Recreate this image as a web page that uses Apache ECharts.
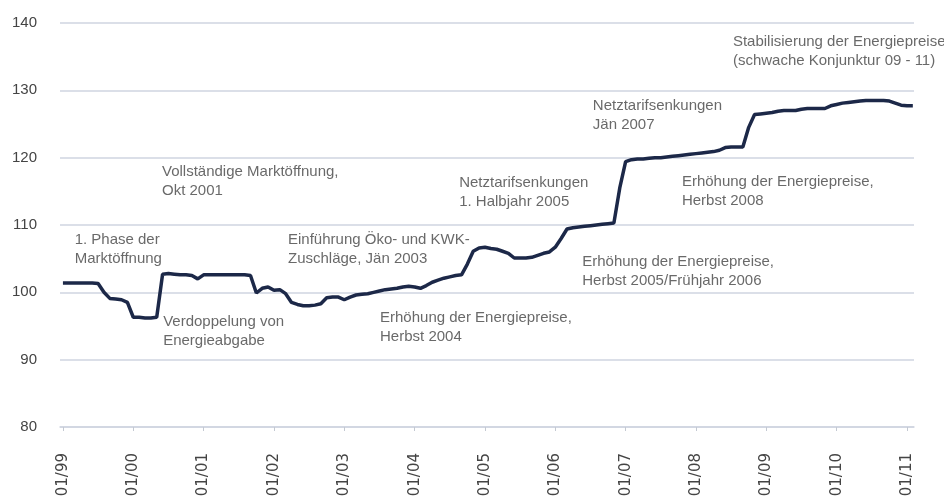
<!DOCTYPE html>
<html>
<head>
<meta charset="utf-8">
<script src="https://cdn.jsdelivr.net/npm/echarts@6/dist/echarts.min.js"></script>
<style>
  html, body { margin: 0; padding: 0; background: #fff; }
  #chart { width: 944px; height: 502px; }
</style>
</head>
<body>
<div id="chart"></div>
<script>
// monthly index values, one array per year (Jan..Dec)
const y1999 = [101.4, 101.4, 101.4, 101.4, 101.4, 101.4, 101.3, 100.0, 99.1, 99.0, 98.9, 98.5];
const y2000 = [96.3, 96.3, 96.2, 96.2, 96.3, 102.7, 102.8, 102.7, 102.6, 102.6, 102.5, 102.0];
const y2001 = [102.6, 102.6, 102.6, 102.6, 102.6, 102.6, 102.6, 102.6, 102.5, 99.9, 100.6, 100.8];
const y2002 = [100.3, 100.4, 99.8, 98.5, 98.2, 98.0, 98.0, 98.1, 98.3, 99.2, 99.3, 99.3];
const y2003 = [98.9, 99.3, 99.6, 99.7, 99.8, 100.0, 100.2, 100.4, 100.5, 100.6, 100.8, 100.9];
const y2004 = [100.8, 100.6, 101.0, 101.5, 101.8, 102.1, 102.3, 102.5, 102.6, 104.2, 106.1, 106.6];
const y2005 = [106.7, 106.5, 106.4, 106.1, 105.8, 105.1, 105.1, 105.1, 105.2, 105.5, 105.8, 106.0];
const y2006 = [106.7, 108.0, 109.4, 109.6, 109.7, 109.8, 109.9, 110.0, 110.1, 110.2, 110.3, 115.5];
const y2007 = [119.4, 119.7, 119.8, 119.8, 119.9, 120.0, 120.0, 120.1, 120.2, 120.3, 120.4, 120.5];
const y2008 = [120.6, 120.7, 120.8, 120.9, 121.1, 121.5, 121.6, 121.6, 121.6, 124.5, 126.4, 126.5];
const y2009 = [126.6, 126.7, 126.9, 127.0, 127.0, 127.0, 127.2, 127.3, 127.3, 127.3, 127.3, 127.7];
const y2010 = [127.9, 128.1, 128.2, 128.3, 128.4, 128.5, 128.5, 128.5, 128.5, 128.4, 128.1, 127.8];
const y2011 = [127.7, 127.7];

const yearLabels = ['01/99', '01/00', '01/01', '01/02', '01/03', '01/04', '01/05', '01/06',
                    '01/07', '01/08', '01/09', '01/10', '01/11'];

// annotations: [month index, index value (top of text), text]
const notes = [
  [2.0, 109.2, '1. Phase der\nMarktöffnung'],
  [16.9, 119.3, 'Vollständige Marktöffnung,\nOkt 2001'],
  [17.1, 97.0, 'Verdoppelung von\nEnergieabgabe'],
  [38.4, 109.2, 'Einführung Öko- und KWK-\nZuschläge, Jän 2003'],
  [54.1, 97.6, 'Erhöhung der Energiepreise,\nHerbst 2004'],
  [67.6, 117.7, 'Netztarifsenkungen\n1. Halbjahr 2005'],
  [88.6, 105.9, 'Erhöhung der Energiepreise,\nHerbst 2005/Frühjahr 2006'],
  [90.4, 129.1, 'Netztarifsenkungen\nJän 2007'],
  [105.6, 117.8, 'Erhöhung der Energiepreise,\nHerbst 2008'],
  [114.3, 138.6, 'Stabilisierung der Energiepreise\n(schwache Konjunktur 09 - 11)']
];

const values = [].concat(y1999, y2000, y2001, y2002, y2003, y2004, y2005, y2006,
                         y2007, y2008, y2009, y2010, y2011);
const lineData = values.map((v, i) => [i, v]);
const yearTicks = yearLabels.map((_, i) => i * 12);

const chart = echarts.init(document.getElementById('chart'));
const font = '"Liberation Sans", Arial, sans-serif';
const gridColor = '#cfd5e0';

chart.setOption({
  animation: false,
  backgroundColor: '#fff',
  grid: { left: 60, right: 30, top: 23, bottom: 75 },
  xAxis: {
    type: 'value',
    min: -0.5,
    max: 145.2,
    splitLine: { show: false },
    axisLine: { show: true, lineStyle: { color: gridColor, width: 1.5 } },
    axisTick: {
      show: true,
      customValues: yearTicks,
      length: 4,
      lineStyle: { color: '#c4c9d2' }
    },
    axisLabel: {
      customValues: yearTicks,
      rotate: 90,
      margin: 26,
      color: '#444',
      fontFamily: '"DejaVu Sans", sans-serif',
      fontSize: 15,
      formatter: v => yearLabels[Math.round(v / 12)]
    }
  },
  yAxis: {
    type: 'value',
    min: 80,
    max: 140,
    interval: 10,
    axisLine: { show: false },
    axisTick: { show: false },
    splitLine: { lineStyle: { color: gridColor, width: 1.5 } },
    axisLabel: { color: '#444', fontFamily: font, fontSize: 15, margin: 23 }
  },
  series: [
    {
      type: 'line',
      data: lineData,
      symbol: 'none',
      lineStyle: { color: '#1c2848', width: 3.5 },
      z: 3
    },
    {
      type: 'scatter',
      data: notes,
      symbolSize: 0,
      silent: true,
      clip: false,
      label: {
        show: true,
        position: [0, 0],
        align: 'left',
        verticalAlign: 'top',
        color: '#444',
        fontFamily: font,
        fontSize: 15,
        lineHeight: 19,
        formatter: p => p.value[2]
      },
      z: 4
    }
  ]
});
</script>
</body>
</html>
